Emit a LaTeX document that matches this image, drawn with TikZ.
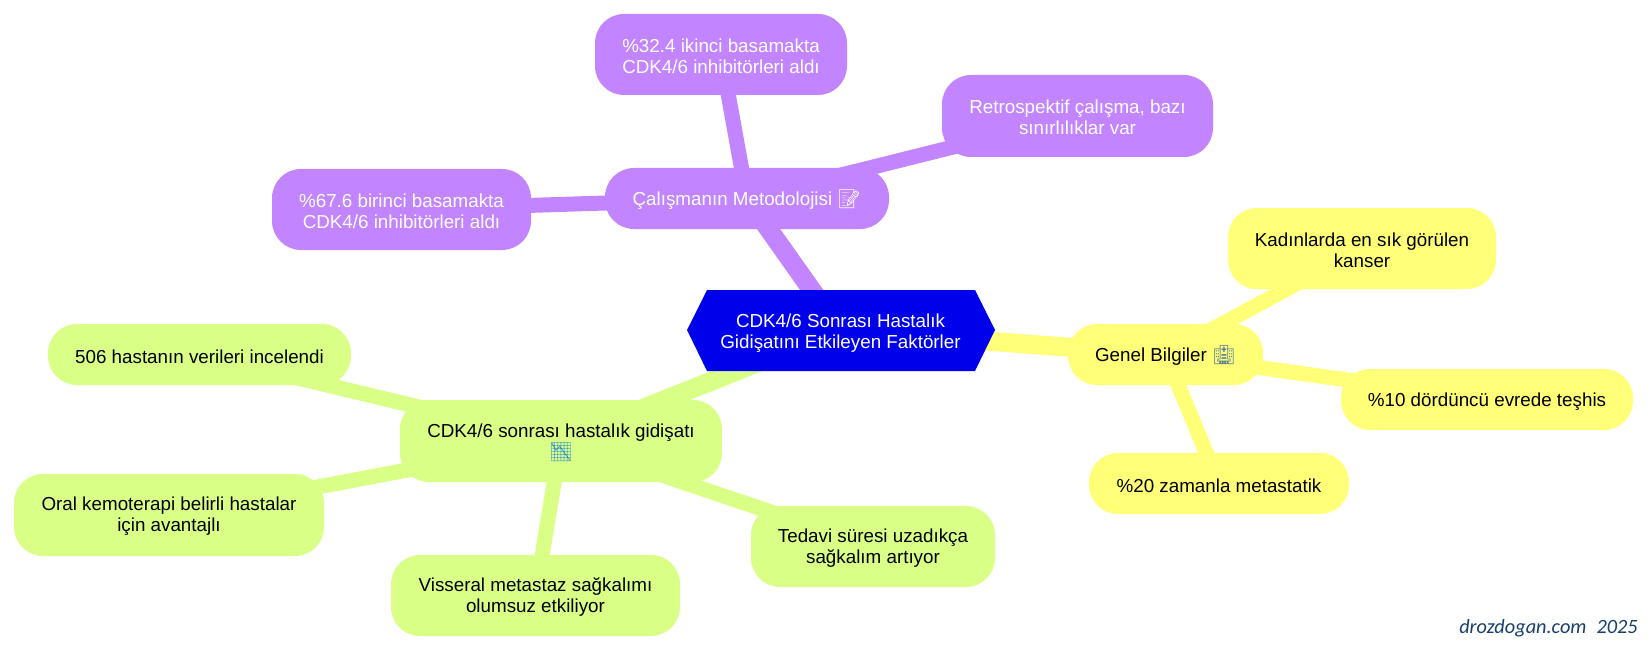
\documentclass[tikz,border=0pt]{standalone}
\usepackage{fontspec}
\usetikzlibrary{backgrounds}
\setmainfont{Liberation Sans}
\newfontfamily\emojifont{Noto Emoji}
\newfontfamily\signfont{Carlito}
\definecolor{purp}{HTML}{C285FF}
\definecolor{yell}{HTML}{FFFF78}
\definecolor{gren}{HTML}{D9FF87}
\definecolor{rootblue}{HTML}{0000EB}
\definecolor{signblue}{HTML}{17406D}
\definecolor{hospc}{HTML}{5B7F95}
\definecolor{chartc}{HTML}{2E8FD0}
\tikzset{
 mm/.style={rounded corners=29pt,inner sep=0pt,align=center,font=\fontsize{18.8}{20.8}\selectfont,text=black},
 purpbox/.style={mm,fill=purp,text=white},
 yellbox/.style={mm,fill=yell},
 grenbox/.style={mm,fill=gren},
 rootedge/.style={line width=19pt},
 leafedge/.style={line width=15pt},
}
\newcommand{\bx}[7]{% two-line box: name style x1 y1 x2 y2 text
 \node[#2,minimum width={(#5-#3)*1pt},minimum height={(#6-#4)*1pt}] (#1) at ({(#3+#5)/2},{(#4+#6)/2}) {\rule{0pt}{16.5pt}#7};}
\newcommand{\bxs}[7]{% one-line box
 \node[#2,minimum width={(#5-#3)*1pt},minimum height={(#6-#4)*1pt}] (#1) at ({(#3+#5)/2},{(#4+#6)/2}) {\rule{0pt}{18pt}#7};}
\begin{document}
\begin{tikzpicture}[x=1pt,y=-1pt]
\useasboundingbox (0,0) rectangle (1650,650);
\coordinate (rootc) at (840,330);
\node[inner sep=0pt,align=center,text=white,font=\fontsize{18.8}{20.8}\selectfont] (root) at (840.5,333) {CDK4/6 Sonrası Hastalık\\Gidişatını Etkileyen Faktörler};
\bxs{met}{purpbox}{605}{168}{889}{229}{Çalışmanın Metodolojisi {\emojifont\textcolor{white}{📝}}}
\bx{p32}{purpbox}{595}{14}{847}{95}{\%32.4 ikinci basamakta\\CDK4/6 inhibitörleri aldı}
\bx{ret}{purpbox}{942}{75}{1213}{157}{Retrospektif çalışma, bazı\\sınırlılıklar var}
\bx{p67}{purpbox}{272}{169}{531}{250}{\%67.6 birinci basamakta\\CDK4/6 inhibitörleri aldı}
\bxs{gen}{yellbox}{1068}{324}{1263}{385}{Genel Bilgiler {\emojifont\textcolor{hospc}{🏥}}}
\bx{kad}{yellbox}{1228}{208}{1496}{289}{Kadınlarda en sık görülen\\kanser}
\bxs{p10}{yellbox}{1341}{369}{1633}{430}{\%10 dördüncü evrede teşhis}
\bxs{p20}{yellbox}{1089}{453}{1349}{514}{\%20 zamanla metastatik}
\bx{cdk}{grenbox}{400}{400}{722}{482}{CDK4/6 sonrası hastalık gidişatı\\{\emojifont\textcolor{chartc}{📉}}}
\bxs{h506}{grenbox}{48}{324}{351}{385}{506 hastanın verileri incelendi}
\bx{ora}{grenbox}{14}{474}{324}{556}{Oral kemoterapi belirli hastalar\\için avantajlı}
\bx{vis}{grenbox}{391}{555}{680}{636}{Visseral metastaz sağkalımı\\olumsuz etkiliyor}
\bx{ted}{grenbox}{751}{506}{995}{587}{Tedavi süresi uzadıkça\\sağkalım artıyor}
\node[anchor=base east,inner sep=0pt,text=signblue,font=\signfont\itshape\fontsize{20.3}{24}\selectfont] (sign) at (1638,633) {drozdogan.com\hspace{0.5em}2025};
\begin{scope}[on background layer]
\fill[white] (0,0) rectangle (1650,650);
\draw[purp,rootedge] (rootc) -- (met.center);
\draw[yell,rootedge] (rootc) -- (gen.center);
\draw[gren,rootedge] (rootc) -- (cdk.center);
\draw[purp,leafedge] (met.center) -- (p32.center);
\draw[purp,leafedge] (met.center) -- (ret.center);
\draw[purp,leafedge] (met.center) -- (p67.center);
\draw[yell,leafedge] (gen.center) -- (kad.center);
\draw[yell,leafedge] (gen.center) -- (p10.center);
\draw[yell,leafedge] (gen.center) -- (p20.center);
\draw[gren,leafedge] (cdk.center) -- (h506.center);
\draw[gren,leafedge] (cdk.center) -- (ora.center);
\draw[gren,leafedge] (cdk.center) -- (vis.center);
\draw[gren,leafedge] (cdk.center) -- (ted.center);
\fill[rootblue] (687,330) -- (707,290) -- (975,290) -- (995,330) -- (975,371) -- (707,371) -- cycle;
\end{scope}
\end{tikzpicture}
\end{document}
